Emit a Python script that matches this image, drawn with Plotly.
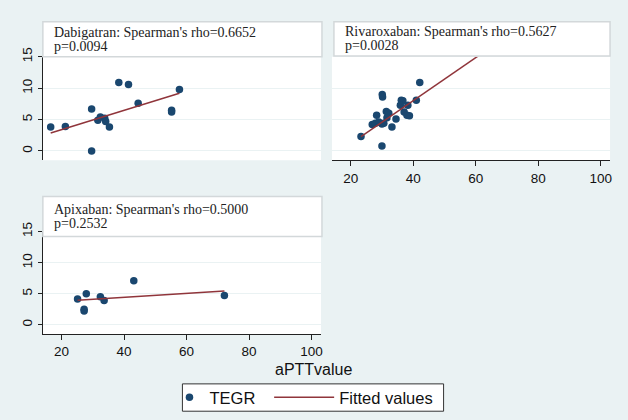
import plotly.graph_objects as go

# ---------------- data ----------------
dab_x = [16.5, 21.2, 29.6, 29.6, 31.6, 32.4, 33.8, 34.1, 35.3, 38.3, 41.4, 44.5, 55.2, 55.2, 57.7]
dab_y = [3.8, 3.9, 6.7, 0.0, 4.9, 5.4, 5.2, 4.7, 3.8, 10.9, 10.6, 7.6, 6.5, 6.2, 9.8]
dab_fit_x = [16.5, 57.7]
dab_fit_y = [2.85, 9.2]

riv_x = [23.3, 30.0, 30.1, 30.2, 26.9, 27.9, 28.3, 30.0, 31.4, 32.2, 31.6, 33.2, 34.5,
         36.2, 36.7, 35.9, 38.3, 37.1, 38.0, 38.8, 41.0, 42.1, 29.0, 30.6]
riv_y = [2.3, 0.8, 9.0, 8.6, 4.2, 4.4, 5.7, 4.3, 6.3, 6.0, 5.3, 3.8, 5.1,
         8.1, 8.0, 7.3, 7.3, 6.2, 5.7, 5.6, 8.1, 10.9, 4.6, 4.4]
riv_fit_x = [23.3, 63.0]
riv_fit_y = [2.3, 15.9]

api_x = [25.1, 27.2, 27.2, 27.9, 32.4, 33.6, 43.1, 72.1]
api_y = [4.15, 2.2, 2.5, 5.0, 4.5, 3.9, 7.1, 4.7]
api_fit_x = [25.1, 72.1]
api_fit_y = [3.95, 5.45]

titles = [("Dabigatran: Spearman's rho=0.6652", "p=0.0094"),
          ("Rivaroxaban: Spearman's rho=0.5627", "p=0.0028"),
          ("Apixaban: Spearman's rho=0.5000", "p=0.2532")]
x_ticks = [20, 40, 60, 80, 100]
y_ticks = [0, 5, 10, 15]
x_title = "aPTTvalue"
series_names = ["TEGR", "Fitted values"]

# ---------------- styling / layout ----------------
W, H = 628, 420
BG = "#EAF2F3"
NAVY = "#1A476F"
MAROON = "#90353B"
AXC = "#222222"

def fx(p):
    return p / W

def fy(p):
    return 1 - p / H

fig = go.Figure()

panels = [
    (dab_x, dab_y, dab_fit_x, dab_fit_y, "x", "y"),
    (riv_x, riv_y, riv_fit_x, riv_fit_y, "x2", "y2"),
    (api_x, api_y, api_fit_x, api_fit_y, "x3", "y3"),
]
for i, (sx, sy, lx, ly, xa, ya) in enumerate(panels):
    fig.add_trace(go.Scatter(x=sx, y=sy, mode="markers", xaxis=xa, yaxis=ya,
                             marker=dict(color=NAVY, size=7.5),
                             name=series_names[0], showlegend=(i == 0), legend="legend"))
    fig.add_trace(go.Scatter(x=lx, y=ly, mode="lines", xaxis=xa, yaxis=ya,
                             line=dict(color=MAROON, width=1.5),
                             name=series_names[1], showlegend=(i == 0), legend="legend2"))

# pixel boxes of plot regions: (left, right, top, bottom)
boxes = [(43, 322, 48, 154), (333, 612, 48, 154), (43, 322, 227, 332)]
XR = [14, 103]
YR = [-1.5, 15]
font_tick = dict(family="Liberation Sans, Arial, sans-serif", size=13.5, color="#111111")

def xaxis_def(box, show, anchor):
    l, r, t, b = box
    d = dict(domain=[fx(l), fx(r)], range=XR, showgrid=False, zeroline=False,
             tickvals=x_ticks, tickfont=font_tick, anchor=anchor)
    if show:
        d.update(showline=True, linecolor=AXC, linewidth=1, ticks="outside",
                 ticklen=5, tickcolor=AXC, showticklabels=True)
    else:
        d.update(showline=False, ticks="", showticklabels=False)
    return d

def yaxis_def(box, show, anchor):
    l, r, t, b = box
    d = dict(domain=[fy(b), fy(t)], range=YR, showgrid=True, gridcolor=BG,
             gridwidth=1, zeroline=False, tickvals=y_ticks, tickfont=font_tick,
             tickangle=-90, anchor=anchor)
    if show:
        d.update(showline=True, linecolor=AXC, linewidth=1, ticks="outside",
                 ticklen=4, tickcolor=AXC, showticklabels=True)
    else:
        d.update(showline=False, ticks="", showticklabels=False)
    return d

shapes = []
annotations = []
title_boxes = [(43, 323, 12, 48), (335, 612, 12, 47), (43, 323, 191, 232)]
for bx in boxes:
    l, r, t, b = bx
    shapes.append(dict(type="rect", xref="paper", yref="paper", x0=fx(l), x1=fx(r),
                       y0=fy(b), y1=fy(t), fillcolor="white", line=dict(width=0),
                       layer="below"))
serif = dict(family="Liberation Serif, Times New Roman, serif", size=14, color="#222222")
for tb, (t1, t2) in zip(title_boxes, titles):
    l, r, t, b = tb
    c = (t + b) / 2
    shapes.append(dict(type="rect", xref="paper", yref="paper", x0=fx(l), x1=fx(r),
                       y0=fy(b), y1=fy(t), fillcolor="white",
                       line=dict(color="#D3D8DA", width=1.5), layer="above"))
    annotations.append(dict(xref="paper", yref="paper", x=fx(l + 9), y=fy(c - 7.25),
                            xanchor="left", yanchor="middle", showarrow=False,
                            text=t1, font=serif))
    annotations.append(dict(xref="paper", yref="paper", x=fx(l + 9), y=fy(c + 7.25),
                            xanchor="left", yanchor="middle", showarrow=False,
                            text=t2, font=serif))
annotations.append(dict(xref="paper", yref="paper", x=fx(314), y=fy(368), xanchor="center",
                        yanchor="middle", showarrow=False, text=x_title,
                        font=dict(family="Liberation Sans, Arial, sans-serif", size=16,
                                  color="#111111")))
# legend frame
shapes.append(dict(type="rect", xref="paper", yref="paper", x0=fx(183), x1=fx(445),
                   y0=fy(411), y1=fy(383), fillcolor="white",
                   line=dict(color="#333333", width=1), layer="below"))

leg_font = dict(family="Liberation Sans, Arial, sans-serif", size=16.5, color="#111111")
fig.update_layout(
    width=W, height=H, margin=dict(l=0, r=0, t=0, b=0),
    paper_bgcolor=BG, plot_bgcolor="rgba(0,0,0,0)",
    xaxis=xaxis_def(boxes[0], False, "y"), yaxis=yaxis_def(boxes[0], True, "x"),
    xaxis2=xaxis_def(boxes[1], True, "y2"), yaxis2=yaxis_def(boxes[1], False, "x2"),
    xaxis3=xaxis_def(boxes[2], True, "y3"), yaxis3=yaxis_def(boxes[2], True, "x3"),
    shapes=shapes, annotations=annotations,
    showlegend=True,
    legend=dict(orientation="h", x=fx(170), xanchor="left", y=fy(397), yanchor="middle",
                bgcolor="rgba(0,0,0,0)", borderwidth=0, font=leg_font, itemwidth=30),
    legend2=dict(orientation="h", x=fx(270), xanchor="left", y=fy(397), yanchor="middle",
                 bgcolor="rgba(0,0,0,0)", borderwidth=0, font=leg_font, itemwidth=60),
)

fig.write_html("out.html", config={"displayModeBar": False},
               post_script="document.body.style.margin='0';")
